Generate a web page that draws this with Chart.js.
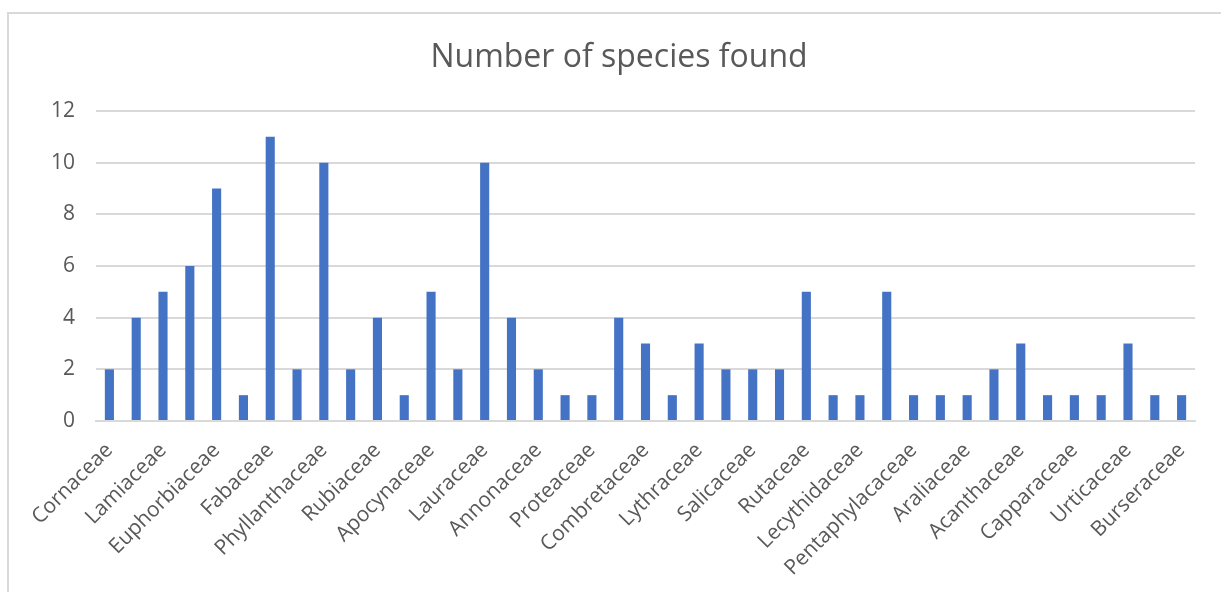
<!DOCTYPE html>
<html>
<head>
<meta charset="utf-8">
<script src="https://cdn.jsdelivr.net/npm/chart.js@4/dist/chart.umd.min.js"></script>
<style>
  html, body { margin: 0; padding: 0; background: #ffffff; overflow: hidden; }
  #wrap { position: absolute; left: 0; top: 0; width: 1221px; height: 592px; }
  #frame { position: absolute; left: 7px; top: 12px; width: 1400px; height: 800px;
           border-left: 2px solid #d9d9d9; border-top: 2px solid #d9d9d9; pointer-events: none; }
</style>
</head>
<body>
<div id="wrap">
  <canvas id="c" width="1221" height="592"></canvas>
  <div id="frame"></div>
</div>
<script>
// Categories: only every other family name is printed on the axis of the original chart;
// names that cannot be read are left blank.
const categories = [
  "Cornaceae", "", "Lamiaceae", "", "Euphorbiaceae", "", "Fabaceae", "", "Phyllanthaceae", "",
  "Rubiaceae", "", "Apocynaceae", "", "Lauraceae", "", "Annonaceae", "", "Proteaceae", "",
  "Combretaceae", "", "Lythraceae", "", "Salicaceae", "", "Rutaceae", "", "Lecythidaceae", "",
  "Pentaphylacaceae", "", "Araliaceae", "", "Acanthaceae", "", "Capparaceae", "", "Urticaceae", "",
  "Burseraceae"
];
const speciesCounts = [
  2, 4, 5, 6, 9, 1, 11, 2, 10, 2,
  4, 1, 5, 2, 10, 4, 2, 1, 1, 4,
  3, 1, 3, 2, 2, 2, 5, 1, 1, 5,
  1, 1, 1, 2, 3, 1, 1, 1, 3, 1,
  1
];
const yTicks = [0, 2, 4, 6, 8, 10, 12];
const chartTitle = "Number of species found";

const FONT = "'Open Sans', 'Noto Sans', sans-serif";
const TEXT = "#595959";
const GRID = "#d9d9d9";

new Chart(document.getElementById("c"), {
  type: "bar",
  data: {
    labels: categories,
    datasets: [{
      label: "Number of species found",
      data: speciesCounts,
      backgroundColor: "#4472c4",
      borderWidth: 0,
      barPercentage: 0.34,
      categoryPercentage: 1.0
    }]
  },
  options: {
    responsive: false,
    devicePixelRatio: 1,
    animation: false,
    layout: { padding: { left: 43, right: 26, top: 0, bottom: 0 } },
    plugins: {
      legend: { display: false },
      tooltip: { enabled: false },
      title: {
        display: true,
        text: chartTitle,
        color: TEXT,
        font: { family: FONT, size: 32, weight: "normal" },
        padding: { top: 39, bottom: 33.6 }
      }
    },
    scales: {
      y: {
        min: yTicks[0],
        max: yTicks[yTicks.length - 1],
        afterBuildTicks: (s) => { s.ticks = yTicks.map(v => ({ value: v })); },
        afterFit: (s) => { s.width = 53; },
        ticks: { color: TEXT, font: { family: FONT, size: 21 }, padding: 21 },
        grid: { color: GRID, lineWidth: 2, drawTicks: false },
        border: { display: false }
      },
      x: {
        afterFit: (s) => { s.height = 171; },
        ticks: {
          color: TEXT,
          font: { family: FONT, size: 21 },
          autoSkip: false,
          minRotation: 45,
          maxRotation: 45,
          padding: 17,
          callback: function (v, i) { return categories[i]; }
        },
        grid: { display: false, drawTicks: false },
        border: { display: true, color: GRID, width: 2 }
      }
    }
  }
});
</script>
</body>
</html>
